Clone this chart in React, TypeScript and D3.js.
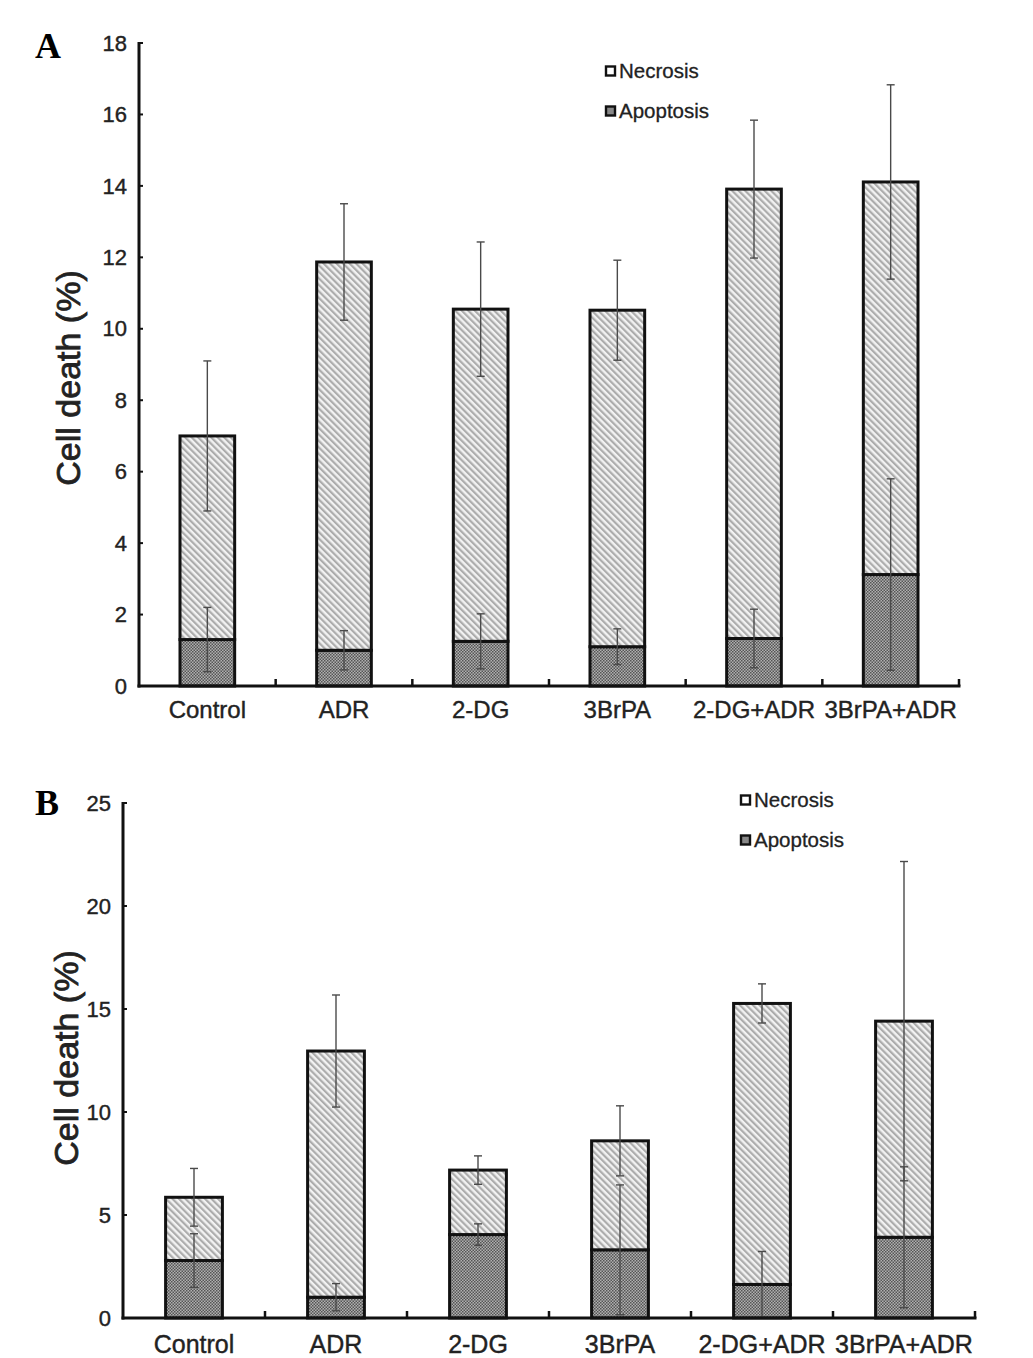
import * as d3 from 'd3'

const categories = ['Control', 'ADR', '2-DG', '3BrPA', '2-DG+ADR', '3BrPA+ADR']

// panel A
const apoptosisA = [1.3, 1.0, 1.25, 1.1, 1.33, 3.12]
const apoptosisErrA = [0.9, 0.55, 0.77, 0.5, 0.82, 2.68]
const necrosisA = [5.7, 10.87, 9.3, 9.42, 12.58, 10.99]
const necrosisErrA = [2.1, 1.63, 1.88, 1.4, 1.93, 2.72]
const ticksA = [0, 2, 4, 6, 8, 10, 12, 14, 16, 18]

// panel B
const apoptosisB = [2.79, 1.01, 4.05, 3.31, 1.63, 3.92]
const apoptosisErrB = [1.3, 0.66, 0.52, 3.15, 1.6, 3.42]
const necrosisB = [3.07, 11.95, 3.13, 5.29, 13.64, 10.49]
const necrosisErrB = [1.4, 2.72, 0.69, 1.7, 0.95, 7.75]
const ticksB = [0, 5, 10, 15, 20, 25]

const legendLabels = ['Necrosis', 'Apoptosis']

const sans = 'Liberation Sans, Arial, sans-serif'

interface PanelProps {
    letter: string
    apoptosis: number[]
    apoptosisErr: number[]
    necrosis: number[]
    necrosisErr: number[]
    ticks: number[]
    left: number
    right: number
    top: number
    bottom: number
    legendX: number
    legendY: number
    titleX: number
    titleY: number
    letterY: number
    labelDy: number
    labelSize: number
}

function Panel({
    letter,
    apoptosis,
    apoptosisErr,
    necrosis,
    necrosisErr,
    ticks,
    left,
    right,
    top,
    bottom,
    legendX,
    legendY,
    titleX,
    titleY,
    letterY,
    labelDy,
    labelSize,
}: PanelProps) {
    const rows = categories.map((c, i) => ({
        cat: c,
        apoptosis: apoptosis[i],
        necrosis: necrosis[i],
        aErr: apoptosisErr[i],
        nErr: necrosisErr[i],
    }))
    const series = d3.stack<(typeof rows)[number]>().keys(['apoptosis', 'necrosis'])(rows)

    const x = d3
        .scaleBand()
        .domain(categories)
        .range([left, right])
        .paddingInner(0.6)
        .paddingOuter(0.3)
    const y = d3
        .scaleLinear()
        .domain([0, ticks[ticks.length - 1]])
        .range([bottom, top])

    const step = x.step()
    const bw = x.bandwidth()
    const bounds = d3.range(1, categories.length + 1).map((i) => left + i * step)
    const fills = ['url(#apop)', 'url(#necr)']
    const cap = 4

    return (
        <g>
            <text x={35} y={letterY} fontFamily="Liberation Serif, Times New Roman, serif" fontWeight="bold" fontSize={36}>
                {letter}
            </text>

            {series.map((s, si) =>
                s.map((d, i) => (
                    <rect
                        key={`${si}-${i}`}
                        x={x(categories[i])}
                        y={y(d[1])}
                        width={bw}
                        height={y(d[0]) - y(d[1])}
                        fill={fills[si]}
                        stroke="#111"
                        strokeWidth={3}
                    />
                ))
            )}

            {series.map((s, si) =>
                s.map((d, i) => {
                    const cx = (x(categories[i]) ?? 0) + bw / 2
                    const err = si === 0 ? rows[i].aErr : rows[i].nErr
                    const y1 = y(d[1] + err)
                    const y2 = y(Math.max(0, d[1] - err))
                    return (
                        <g key={`e${si}-${i}`} stroke="#4a4a4a" strokeWidth={1.4}>
                            <line x1={cx} x2={cx} y1={y1} y2={y2} />
                            <line x1={cx - cap} x2={cx + cap} y1={y1} y2={y1} />
                            <line x1={cx - cap} x2={cx + cap} y1={y2} y2={y2} />
                        </g>
                    )
                })
            )}

            {/* axes */}
            <line x1={left} x2={left} y1={top - 1} y2={bottom + 1.5} stroke="#111" strokeWidth={3} />
            <line x1={left - 1.5} x2={right + 1.5} y1={bottom} y2={bottom} stroke="#111" strokeWidth={3} />
            {ticks.map((t) => (
                <g key={t}>
                    <line x1={left} x2={left + 4} y1={y(t)} y2={y(t)} stroke="#111" strokeWidth={2} />
                    <text
                        x={left - 12}
                        y={y(t)}
                        dy="0.35em"
                        textAnchor="end"
                        fontFamily={sans}
                        fontSize={22}
                        fill="#222"
                        stroke="#222"
                        strokeWidth={0.4}
                    >
                        {t}
                    </text>
                </g>
            ))}
            {bounds.map((b) => (
                <line key={b} x1={b} x2={b} y1={bottom} y2={bottom - 7} stroke="#111" strokeWidth={2.5} />
            ))}
            {categories.map((c) => (
                <text
                    key={c}
                    x={(x(c) ?? 0) + bw / 2}
                    y={bottom + labelDy}
                    textAnchor="middle"
                    fontFamily={sans}
                    fontSize={labelSize}
                    fill="#222"
                    stroke="#222"
                    strokeWidth={0.4}
                >
                    {c}
                </text>
            ))}

            <text
                transform={`translate(${titleX},${titleY}) rotate(-90)`}
                textAnchor="middle"
                dy="0.35em"
                fontFamily={sans}
                fontSize={34}
                fill="#222"
                stroke="#222"
                strokeWidth={0.8}
            >
                Cell death (%)
            </text>

            {legendLabels.map((l, i) => (
                <g key={l} transform={`translate(${legendX},${legendY + i * 40})`}>
                    <rect x={1} y={-4.5} width={9} height={9} fill={i === 0 ? '#fff' : '#888'} stroke="#111" strokeWidth={2.4} />
                    <text x={14} dy="0.35em" fontFamily={sans} fontSize={20.5} fill="#222" stroke="#222" strokeWidth={0.3}>
                        {l}
                    </text>
                </g>
            ))}
        </g>
    )
}

export default function App() {
    return (
        <div style={{ position: 'absolute', left: 0, top: 0 }}>
            <svg width={1033} height={1358} style={{ background: 'white', display: 'block' }}>
                <defs>
                    <pattern id="necr" patternUnits="userSpaceOnUse" width={4.6} height={4.6} patternTransform="rotate(-45)">
                        <rect width={4.6} height={4.6} fill="#f2f2f2" />
                        <rect width={2.2} height={4.6} fill="#acacac" />
                    </pattern>
                    <pattern id="apop" patternUnits="userSpaceOnUse" width={3} height={3}>
                        <rect width={3} height={3} fill="#b0b0b0" />
                        <rect width={1.5} height={1.5} fill="#555" />
                        <rect x={1.5} y={1.5} width={1.5} height={1.5} fill="#555" />
                    </pattern>
                </defs>
                <Panel
                    letter="A"
                    apoptosis={apoptosisA}
                    apoptosisErr={apoptosisErrA}
                    necrosis={necrosisA}
                    necrosisErr={necrosisErrA}
                    ticks={ticksA}
                    left={139}
                    right={959}
                    top={43}
                    bottom={686}
                    legendX={605}
                    legendY={71}
                    titleX={68}
                    titleY={378}
                    letterY={58}
                    labelDy={32}
                    labelSize={24}
                />
                <Panel
                    letter="B"
                    apoptosis={apoptosisB}
                    apoptosisErr={apoptosisErrB}
                    necrosis={necrosisB}
                    necrosisErr={necrosisErrB}
                    ticks={ticksB}
                    left={123}
                    right={975}
                    top={803}
                    bottom={1318}
                    legendX={740}
                    legendY={800}
                    titleX={66}
                    titleY={1058}
                    letterY={815}
                    labelDy={35}
                    labelSize={25}
                />
            </svg>
        </div>
    )
}
